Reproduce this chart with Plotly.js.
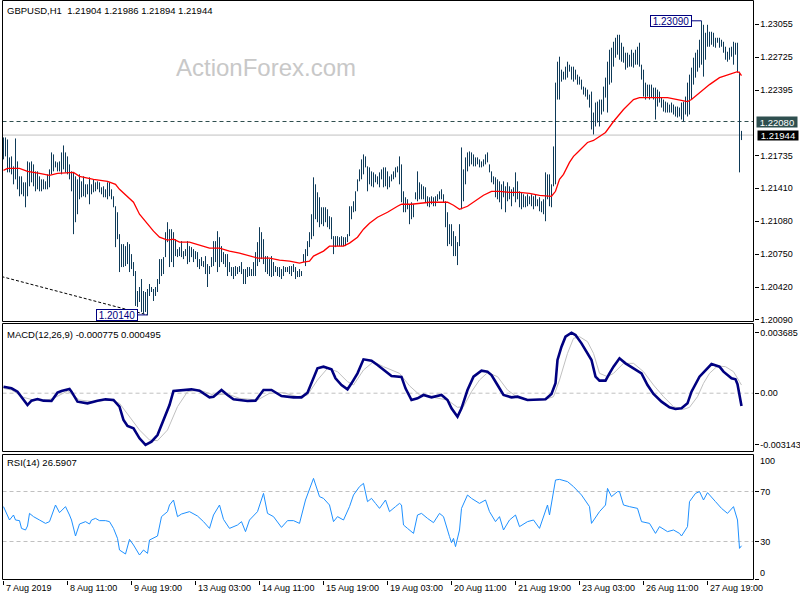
<!DOCTYPE html>
<html><head><meta charset="utf-8">
<script src="https://cdn.plot.ly/plotly-3.0.1.min.js"></script>
<style>html,body{margin:0;padding:0;background:#fff}#chart{width:800px;height:600px}</style>
</head><body><div id="chart"></div>
<script>
// ---------------- DATA ----------------
const symbol = 'GBPUSD,H1';
const lastOHLC = [1.21904, 1.21986, 1.21894, 1.21944];
const hLinePrice = 1.22080;
const macdLabelVals = [-0.000775, 0.000495];
const rsiLabelVal = 26.5907;

const timeLabels = ['7 Aug 2019','8 Aug 11:00','9 Aug 19:00','13 Aug 03:00','14 Aug 11:00','15 Aug 19:00',
  '19 Aug 03:00','20 Aug 11:00','21 Aug 19:00','23 Aug 03:00','26 Aug 11:00','27 Aug 19:00'];
const timeLabelBars = [0,32,64,96,128,160,192,224,256,288,320,352];

const priceTicks = [1.23055,1.22725,1.22395,1.21735,1.21410,1.21080,1.20750,1.20420,1.20090];
const macdTicks = [0.003685, 0, -0.003143];
const macdTickText = ['0.003685','0.00','-0.003143'];
const rsiLevels = [70, 30];

const highs = [
1.2192,1.2192,1.2190,1.2172,1.2173,1.2163,1.2191,1.2168,1.2153,1.2153,
1.2147,1.2147,1.2168,1.2167,1.2168,1.2165,1.2158,1.2158,1.2153,1.2150,
1.2150,1.2148,1.2155,1.2160,1.2177,1.2175,1.2168,1.2167,1.2168,1.2177,
1.2184,1.2177,1.2173,1.2165,1.2158,1.2157,1.2153,1.2150,1.2155,1.2148,
1.2153,1.2145,1.2145,1.2152,1.2145,1.2150,1.2147,1.2148,1.2147,1.2142,
1.2143,1.2140,1.2147,1.2147,1.2140,1.2133,1.2123,1.2117,1.2095,1.2085,
1.2085,1.2083,1.2087,1.2085,1.2075,1.2067,1.2058,1.2038,1.2042,1.2050,
1.2038,1.2037,1.2040,1.2045,1.2042,1.2040,1.2042,1.2050,1.2070,1.2070,
1.2072,1.2097,1.2107,1.2100,1.2100,1.2097,1.2090,1.2080,1.2082,1.2088,
1.2078,1.2080,1.2088,1.2083,1.2082,1.2080,1.2078,1.2077,1.2070,1.2072,
1.2068,1.2073,1.2065,1.2063,1.2072,1.2088,1.2088,1.2098,1.2092,1.2083,
1.2077,1.2075,1.2075,1.2067,1.2062,1.2062,1.2063,1.2062,1.2063,1.2067,
1.2060,1.2060,1.2062,1.2062,1.2060,1.2067,1.2077,1.2087,1.2102,1.2097,
1.2090,1.2073,1.2073,1.2070,1.2073,1.2067,1.2063,1.2062,1.2062,1.2060,
1.2063,1.2062,1.2062,1.2063,1.2063,1.2065,1.2062,1.2058,1.2060,1.2058,
1.2075,1.2080,1.2088,1.2097,1.2115,1.2152,1.2145,1.2137,1.2132,1.2122,
1.2122,1.2122,1.2120,1.2113,1.2112,1.2093,1.2093,1.2093,1.2092,1.2093,
1.2092,1.2092,1.2095,1.2123,1.2123,1.2128,1.2138,1.2150,1.2160,1.2170,
1.2175,1.2173,1.2163,1.2162,1.2158,1.2157,1.2155,1.2153,1.2157,1.2160,
1.2162,1.2162,1.2158,1.2153,1.2155,1.2158,1.2162,1.2163,1.2173,1.2165,
1.2138,1.2132,1.2130,1.2125,1.2127,1.2125,1.2137,1.2158,1.2147,1.2145,
1.2143,1.2142,1.2133,1.2132,1.2133,1.2132,1.2133,1.2135,1.2138,1.2140,
1.2135,1.2128,1.2117,1.2105,1.2105,1.2098,1.2093,1.2087,1.2105,1.2182,
1.2160,1.2172,1.2177,1.2178,1.2177,1.2175,1.2172,1.2172,1.2170,1.2168,
1.2170,1.2175,1.2177,1.2165,1.2158,1.2153,1.2152,1.2150,1.2148,1.2145,
1.2148,1.2143,1.2147,1.2143,1.2140,1.2142,1.2157,1.2148,1.2138,1.2137,
1.2135,1.2133,1.2135,1.2133,1.2135,1.2133,1.2135,1.2130,1.2132,1.2128,
1.2130,1.2157,1.2155,1.2155,1.2145,1.2183,1.2247,1.2268,1.2273,1.2260,
1.2258,1.2263,1.2268,1.2265,1.2263,1.2263,1.2260,1.2255,1.2253,1.2250,
1.2243,1.2242,1.2240,1.2235,1.2238,1.2217,1.2227,1.2228,1.2230,1.2230,
1.2243,1.2252,1.2268,1.2280,1.2282,1.2288,1.2292,1.2295,1.2295,1.2287,
1.2283,1.2277,1.2277,1.2275,1.2280,1.2277,1.2280,1.2283,1.2287,1.2265,
1.2260,1.2247,1.2245,1.2245,1.2245,1.2242,1.2242,1.2240,1.2238,1.2232,
1.2230,1.2228,1.2227,1.2225,1.2227,1.2225,1.2223,1.2223,1.2222,1.2227,
1.2228,1.2233,1.2247,1.2255,1.2262,1.2272,1.2277,1.2280,1.2290,1.2309,
1.2305,1.2297,1.2305,1.2298,1.2298,1.2297,1.2292,1.2292,1.2292,1.2290,
1.2288,1.2283,1.2278,1.2282,1.2283,1.2288,1.2287,1.2287,1.2258,1.21986];

const lows = [
1.2170,1.2173,1.2157,1.2157,1.2155,1.2145,1.2150,1.2140,1.2133,1.2135,
1.2133,1.2122,1.2133,1.2143,1.2147,1.2143,1.2138,1.2140,1.2138,1.2138,
1.2140,1.2140,1.2140,1.2142,1.2155,1.2158,1.2162,1.2158,1.2158,1.2155,
1.2160,1.2157,1.2155,1.2150,1.2138,1.2095,1.2107,1.2115,1.2130,1.2132,
1.2133,1.2132,1.2135,1.2125,1.2135,1.2137,1.2138,1.2140,1.2137,1.2135,
1.2132,1.2132,1.2130,1.2133,1.2130,1.2122,1.2082,1.2090,1.2057,1.2062,
1.2062,1.2063,1.2065,1.2057,1.2060,1.2053,1.2023,1.2022,1.2027,1.2017,
1.2015,1.2017,1.2014,1.2033,1.2037,1.2028,1.2033,1.2037,1.2045,1.2053,
1.2055,1.2072,1.2087,1.2062,1.2067,1.2062,1.2073,1.2072,1.2073,1.2072,
1.2070,1.2073,1.2065,1.2067,1.2072,1.2067,1.2070,1.2062,1.2060,1.2063,
1.2062,1.2055,1.2042,1.2055,1.2062,1.2063,1.2067,1.2057,1.2062,1.2067,
1.2065,1.2062,1.2053,1.2057,1.2053,1.2050,1.2053,1.2055,1.2057,1.2055,
1.2045,1.2045,1.2052,1.2053,1.2053,1.2053,1.2053,1.2063,1.2067,1.2070,
1.2065,1.2057,1.2055,1.2053,1.2052,1.2053,1.2057,1.2053,1.2052,1.2050,
1.2053,1.2057,1.2057,1.2055,1.2053,1.2057,1.2050,1.2052,1.2052,1.2053,
1.2067,1.2063,1.2073,1.2082,1.2090,1.2093,1.2110,1.2107,1.2102,1.2105,
1.2103,1.2107,1.2102,1.2100,1.2090,1.2075,1.2082,1.2083,1.2083,1.2083,
1.2083,1.2083,1.2087,1.2093,1.2110,1.2117,1.2118,1.2138,1.2148,1.2150,
1.2155,1.2162,1.2138,1.2145,1.2143,1.2142,1.2147,1.2145,1.2142,1.2150,
1.2142,1.2143,1.2140,1.2142,1.2148,1.2150,1.2152,1.2157,1.2145,1.2127,
1.2117,1.2117,1.2120,1.2105,1.2110,1.2112,1.2130,1.2128,1.2130,1.2130,
1.2130,1.2127,1.2123,1.2122,1.2125,1.2123,1.2123,1.2128,1.2130,1.2130,
1.2127,1.2102,1.2083,1.2085,1.2083,1.2073,1.2073,1.2064,1.2083,1.2120,
1.2128,1.2145,1.2158,1.2163,1.2165,1.2163,1.2163,1.2165,1.2162,1.2162,
1.2163,1.2165,1.2167,1.2157,1.2147,1.2145,1.2132,1.2130,1.2127,1.2120,
1.2132,1.2117,1.2128,1.2130,1.2123,1.2133,1.2127,1.2130,1.2122,1.2120,
1.2122,1.2122,1.2123,1.2125,1.2123,1.2120,1.2123,1.2123,1.2118,1.2117,
1.2115,1.2108,1.2130,1.2123,1.2122,1.2143,1.2145,1.2230,1.2230,1.2248,
1.2250,1.2250,1.2252,1.2258,1.2250,1.2248,1.2250,1.2245,1.2245,1.2240,
1.2235,1.2233,1.2230,1.2222,1.2200,1.2195,1.2203,1.2207,1.2203,1.2215,
1.2218,1.2232,1.2217,1.2245,1.2247,1.2263,1.2272,1.2275,1.2270,1.2268,
1.2267,1.2260,1.2262,1.2263,1.2263,1.2262,1.2265,1.2265,1.2263,1.2250,
1.2233,1.2230,1.2233,1.2230,1.2232,1.2230,1.2210,1.2223,1.2227,1.2222,
1.2218,1.2217,1.2217,1.2217,1.2217,1.2215,1.2213,1.2212,1.2213,1.2210,
1.2208,1.2215,1.2213,1.2215,1.2230,1.2245,1.2252,1.2258,1.2262,1.2265,
1.2253,1.2270,1.2283,1.2283,1.2285,1.2283,1.2282,1.2287,1.2282,1.2283,
1.2277,1.2270,1.2268,1.2270,1.2273,1.2265,1.2275,1.2257,1.2157,1.21894];

// moving average [bar, value]
const maPts = [[0,1.2159],[2,1.2161],[8,1.2161],[12,1.2158],[18,1.2156],[23,1.2154],[27,1.2156],[32,1.2157],[35,1.2157],[38,1.2153],
[45,1.2150],[52,1.2148],[56,1.2145],[58,1.2140],[62,1.2133],[65,1.2127],[68,1.2115],[72,1.2105],[75,1.2098],[78,1.2092],
[82,1.2089],[85,1.2090],[88,1.2087],[93,1.2087],[98,1.2084],[103,1.2081],[108,1.2081],[113,1.2078],[118,1.2076],[123,1.2073],
[127,1.2071],[133,1.2071],[138,1.2069],[143,1.2068],[148,1.2066],[150,1.2067],[153,1.2068],[155,1.2073],[160,1.2078],[163,1.2083],
[170,1.2083],[173,1.2086],[177,1.2092],[180,1.2100],[183,1.2106],[187,1.2112],[192,1.2117],[197,1.2123],[199,1.2125],[204,1.2125],
[208,1.2126],[213,1.2127],[217,1.2127],[222,1.2127],[225,1.2124],[228,1.2120],[232,1.2123],[237,1.2130],[240,1.2134],[244,1.2138],
[248,1.2138],[253,1.2137],[258,1.2137],[263,1.2136],[268,1.2134],[274,1.2133],[276,1.2138],[278,1.2150],[280,1.2155],[283,1.2167],
[285,1.2173],[287,1.2177],[292,1.2187],[295,1.2189],[301,1.2197],[305,1.2208],[310,1.2220],[315,1.2230],[318,1.2232],[328,1.2232],
[332,1.2232],[337,1.2230],[342,1.2228],[344,1.2230],[348,1.2237],[353,1.2245],[358,1.2252],[363,1.2255],[367,1.2258],[368,1.2257],[369,1.2254]];

const macdPts = [[0,0.000398],[4,0.000296],[7,0.000093],[9,-0.000211],[12,-0.000719],[14,-0.000455],[17,-0.000353],[20,-0.000455],[24,-0.000475],[27,0.000032],
[29,0.000134],[33,0.000256],[34,0.000093],[37,-0.000516],[42,-0.000617],[47,-0.000455],[51,-0.000374],[55,-0.000414],[58,-0.000820],[60,-0.001632],
[62,-0.001998],[65,-0.002140],[68,-0.002749],[71,-0.003143],[74,-0.002952],[77,-0.002546],[80,-0.001632],[83,-0.000719],[85,0.000134],[89,0.000195],
[94,0.000235],[98,0.000154],[103,-0.000252],[105,-0.000211],[109,0.000195],[112,-0.000110],[115,-0.000374],[122,-0.000475],[126,-0.000455],[130,0.000195],
[134,0.000195],[139,-0.000171],[145,-0.000252],[149,-0.000252],[152,0.000032],[157,0.001514],[160,0.001616],[164,0.001453],[166,0.000905],[169,0.000499],
[172,0.000235],[174,0.000601],[177,0.001210],[180,0.002062],[184,0.001981],[187,0.001717],[190,0.001413],[194,0.001047],[199,0.000990],[201,0.000296],
[204,-0.000414],[207,-0.000313],[210,-0.000110],[214,-0.000252],[219,-0.000110],[222,-0.000414],[224,-0.000922],[227,-0.001429],[229,-0.000922],[232,0.000195],
[235,0.001007],[239,0.001372],[242,0.001311],[244,0.001108],[247,0.000499],[250,-0.000110],[254,-0.000252],[257,-0.000211],[262,-0.000414],[267,-0.000414],
[271,-0.000374],[274,-0.000049],[276,0.000601],[277,0.002022],[279,0.002834],[281,0.003443],[284,0.003685],[286,0.003544],[289,0.003036],[294,0.002022],
[296,0.001007],[298,0.000763],[301,0.000763],[303,0.001210],[305,0.001616],[308,0.002123],[311,0.001819],[315,0.001514],[319,0.001210],[322,0.000499],
[325,-0.000049],[329,-0.000516],[333,-0.000861],[336,-0.000962],[339,-0.000922],[342,-0.000617],[344,0.000093],[348,0.001007],[351,0.001413],[354,0.001778],
[358,0.001616],[360,0.001311],[364,0.000905],[366,0.000844],[367,0.000550],[368,-0.000250],[369,-0.000775]];

const signalPts = [[0,0.000296],[4,0.000195],[10,-0.000252],[15,-0.000414],[20,-0.000475],[25,-0.000313],[32,0.000134],[38,-0.000414],[45,-0.000516],[53,-0.000414],
[58,-0.000617],[63,-0.001429],[68,-0.002241],[73,-0.002850],[77,-0.002891],[82,-0.002241],[87,-0.000820],[92,0.000093],[98,0.000195],[105,-0.000110],
[112,-0.000049],[118,-0.000313],[127,-0.000414],[133,-0.000008],[140,0.000032],[147,-0.000211],[152,-0.000110],[157,0.000804],[162,0.001514],[167,0.001311],
[172,0.000702],[175,0.000499],[180,0.001413],[185,0.001920],[190,0.001616],[198,0.001210],[203,0.000450],[208,-0.000100],[215,-0.000252],[222,-0.000414],
[227,-0.000861],[230,-0.000820],[234,0.000093],[238,0.000804],[242,0.001250],[247,0.001007],[252,0.000195],[257,-0.000252],[263,-0.000414],[270,-0.000414],
[275,-0.000211],[278,0.000804],[282,0.002428],[285,0.003341],[288,0.003443],[292,0.003139],[295,0.002428],[298,0.001210],[302,0.001007],[305,0.001210],
[310,0.001819],[315,0.001819],[320,0.001311],[325,0.000499],[330,-0.000211],[335,-0.000820],[340,-0.000983],[343,-0.000861],[347,-0.000211],[350,0.000601],
[353,0.001210],[357,0.001656],[361,0.001616],[365,0.001311],[368,0.000702],[369,0.000495]];

const rsiPts = [[0,57.9],[2,51.2],[3,47.2],[5,51.2],[6,47.2],[8,46.7],[9,40.5],[11,39.2],[12,42.4],[13,52.5],
[15,49.9],[18,47.2],[21,44.5],[23,45.9],[26,59.2],[28,53.1],[31,57.9],[33,51.2],[34,47.2],[36,34.4],
[38,44.0],[41,45.9],[43,44.0],[44,47.2],[46,48.5],[48,46.7],[51,46.7],[53,45.9],[55,40.5],[57,32.5],
[58,23.2],[61,20.0],[63,31.7],[65,27.2],[68,19.2],[70,23.2],[72,20.5],[73,31.2],[77,34.4],[79,49.9],
[82,53.9],[83,59.2],[85,63.2],[87,49.9],[89,52.0],[93,53.9],[97,50.4],[100,45.9],[103,40.5],[105,51.2],
[108,59.2],[110,47.7],[113,40.5],[117,43.2],[119,45.9],[121,37.9],[123,47.2],[127,53.9],[130,68.5],[132,52.5],
[135,49.9],[139,41.3],[142,46.7],[145,46.7],[148,44.5],[151,63.2],[153,72.5],[155,80.5],[158,65.9],[160,64.5],
[163,59.2],[165,45.9],[167,49.9],[170,47.2],[173,57.9],[175,67.2],[178,73.9],[180,76.5],[182,61.9],[184,64.5],
[186,60.5],[188,56.5],[191,63.2],[193,53.9],[196,57.9],[198,60.5],[199,59.2],[200,43.2],[202,40.5],[203,39.2],
[205,36.5],[207,51.2],[209,52.5],[212,48.5],[215,45.1],[218,52.5],[220,49.9],[223,33.9],[224,29.1],[225,32.5],
[226,25.9],[228,39.2],[229,56.5],[232,67.2],[234,64.5],[238,60.5],[241,63.2],[243,53.9],[246,45.9],[248,49.9],
[250,39.2],[253,47.2],[256,51.2],[258,41.9],[262,45.9],[265,47.2],[268,40.5],[272,59.2],[273,51.2],[276,79.2],
[278,79.7],[282,77.9],[285,73.9],[289,67.2],[293,57.9],[294,44.5],[298,53.9],[301,59.2],[302,72.5],[304,65.9],
[307,69.9],[308,69.9],[310,59.2],[313,57.9],[317,56.5],[319,45.9],[323,44.5],[326,36.5],[328,41.9],[332,37.9],
[335,39.2],[338,36.5],[339,34.4],[342,41.9],[343,61.9],[346,68.5],[348,69.9],[350,63.2],[352,69.1],[356,61.9],
[359,56.5],[362,52.5],[364,56.5],[365,57.9],[367,47.2],[368,24.5],[369,26.5907]];

// trend line drawn on the chart: [bar, price] at its visible start; it ends at the swing low
const trendStart = [-1, 1.20525];

// ---------------- LAYOUT / CALIBRATION ----------------
const W = 800, H = 600;
const FONT = 'Liberation Sans, Arial, sans-serif';
const FS = 9.5;
const xL = 2.5, xR = 753.5;
const mainPx = [0.5, 321.5], macdPx = [323.5, 451.5], rsiPx = [454.5, 579.5];
const pY = py => 1 - py / H;
const pX = px => px / W;
const priceAt = py => 1.23055 - (py - 24.3) * 0.0001003;
const macdAt = py => (393.2 - py) * 0.0000609;
const rsiAt = py => (579 - py) / 1.25;

const n = highs.length;
const bx = [], by = [];
for (let i = 0; i < n; i++) { bx.push(i, i, null); by.push(lows[i], highs[i], null); }
const hiIdx = highs.indexOf(Math.max(...highs));
const loIdx = lows.indexOf(Math.min(...lows));
const col = a => a.map(p => p[0]);
const val = a => a.map(p => p[1]);

const traces = [
  {x: [trendStart[0], loIdx], y: [trendStart[1], lows[loIdx]], xaxis:'x', yaxis:'y', mode:'lines',
   line:{color:'#000', width:1, dash:'3px,2px'}},
  {x: bx, y: by, xaxis:'x', yaxis:'y', mode:'lines', line:{color:'#0e3a58', width:1, simplify:false}},
  {x: col(maPts), y: val(maPts), xaxis:'x', yaxis:'y', mode:'lines', line:{color:'#ff0000', width:1.3}},
  {x: col(signalPts), y: val(signalPts), xaxis:'x', yaxis:'y2', mode:'lines', line:{color:'#c0c0c0', width:1}},
  {x: col(macdPts), y: val(macdPts), xaxis:'x', yaxis:'y2', mode:'lines', line:{color:'#000080', width:2.6}},
  {x: col(rsiPts), y: val(rsiPts), xaxis:'x', yaxis:'y3', mode:'lines', line:{color:'#1e90ff', width:1}}
];

const tickFont = {family: FONT, size: FS, color: '#000'};
const axisFont = {family: FONT, size: 9, color: '#000'};
const yCommon = {side:'right', anchor:'x', showgrid:false, zeroline:false, showline:false,
  ticks:'outside', ticklen:4, tickcolor:'#000', tickwidth:1, tickfont:axisFont, fixedrange:true};

const shapes = [];
[mainPx, macdPx, rsiPx].forEach(p => shapes.push({type:'rect', xref:'paper', yref:'paper',
  x0:pX(xL), x1:pX(xR), y0:pY(p[1]), y1:pY(p[0]), line:{color:'#000', width:1}, fillcolor:'rgba(0,0,0,0)'}));
shapes.push({type:'line', xref:'paper', yref:'y', x0:pX(xL), x1:pX(xR), y0:hLinePrice, y1:hLinePrice,
  line:{color:'#2f4f4f', width:1, dash:'4px,3px'}, layer:'below'});
shapes.push({type:'line', xref:'paper', yref:'y', x0:pX(xL), x1:pX(xR), y0:lastOHLC[3], y1:lastOHLC[3],
  line:{color:'#c0c0c0', width:1}, layer:'below'});
shapes.push({type:'line', xref:'paper', yref:'y2', x0:pX(xL), x1:pX(xR), y0:0, y1:0,
  line:{color:'#c0c0c0', width:1, dash:'4px,3px'}, layer:'below'});
rsiLevels.forEach(v => shapes.push({type:'line', xref:'paper', yref:'y3', x0:pX(xL), x1:pX(xR), y0:v, y1:v,
  line:{color:'#c0c0c0', width:1, dash:'4px,3px'}, layer:'below'}));
shapes.push({type:'line', xref:'x', yref:'y', x0:hiIdx-4.75, x1:hiIdx, y0:highs[hiIdx], y1:highs[hiIdx], line:{color:'#000080', width:1}});
shapes.push({type:'line', xref:'x', yref:'y', x0:loIdx-4.75, x1:loIdx, y0:lows[loIdx], y1:lows[loIdx], line:{color:'#000080', width:1}});

const NB = '\u00a0';
const annotations = [
  {xref:'paper', yref:'paper', x:pX(5), y:pY(11), xanchor:'left', yanchor:'middle', showarrow:false,
   text: symbol + NB + NB + lastOHLC.map(v => v.toFixed(5)).join(' '), font:tickFont},
  {xref:'paper', yref:'paper', x:pX(266), y:pY(68), xanchor:'center', yanchor:'middle', showarrow:false,
   text:'ActionForex.com', font:{family:FONT, size:24, color:'#c8c8c8'}},
  {xref:'paper', yref:'paper', x:pX(5), y:pY(334), xanchor:'left', yanchor:'middle', showarrow:false,
   text:'MACD(12,26,9) ' + macdLabelVals[0].toFixed(6) + ' ' + macdLabelVals[1].toFixed(6), font:tickFont},
  {xref:'paper', yref:'paper', x:pX(5), y:pY(462), xanchor:'left', yanchor:'middle', showarrow:false,
   text:'RSI(14) ' + rsiLabelVal.toFixed(4), font:tickFont},
  {xref:'paper', yref:'y', x:pX(755.5), y:hLinePrice, xanchor:'left', yanchor:'middle', showarrow:false,
   text:hLinePrice.toFixed(5), bgcolor:'#2f4f4f', width:40, height:10, borderpad:0,
   font:{family:FONT, size:FS, color:'#fff'}},
  {xref:'paper', yref:'y', x:pX(756.5), y:lastOHLC[3], xanchor:'left', yanchor:'middle', showarrow:false,
   text:lastOHLC[3].toFixed(5), bgcolor:'#000', width:40, height:9, borderpad:0,
   font:{family:FONT, size:FS, color:'#fff'}},
  {xref:'x', yref:'y', x:hiIdx-4.75, y:highs[hiIdx], xanchor:'right', yanchor:'middle', showarrow:false,
   text:highs[hiIdx].toFixed(5), bgcolor:'#fff', bordercolor:'#000080', borderwidth:1, borderpad:0, width:40, height:10,
   font:{family:FONT, size:10, color:'#000080'}},
  {xref:'x', yref:'y', x:loIdx-4.75, y:lows[loIdx], xanchor:'right', yanchor:'middle', showarrow:false,
   text:lows[loIdx].toFixed(5), bgcolor:'#fff', bordercolor:'#000080', borderwidth:1, borderpad:0, width:40, height:10,
   font:{family:FONT, size:10, color:'#000080'}},
  {xref:'paper', yref:'paper', x:pX(758), y:pY(461), xanchor:'left', yanchor:'middle', showarrow:false, text:'100', font:axisFont},
  {xref:'paper', yref:'paper', x:pX(758), y:pY(573), xanchor:'left', yanchor:'middle', showarrow:false, text:'0', font:axisFont}
];
// time-axis labels, left-aligned just after each tick (MT4 style)
timeLabels.forEach((t, k) => annotations.push({xref:'x', yref:'paper', x:timeLabelBars[k], y:pY(588),
  xanchor:'left', yanchor:'middle', showarrow:false, text:t, font:axisFont}));

const layout = {
  width: W, height: H, margin:{l:0, r:0, t:0, b:0}, paper_bgcolor:'#fff', plot_bgcolor:'#fff',
  showlegend:false, hovermode:false,
  xaxis:{domain:[pX(xL), pX(xR)], range:[-0.5, -0.5 + (xR - xL) / 2], anchor:'y3', showgrid:false, zeroline:false,
    showline:false, ticks:'outside', ticklen:4, tickcolor:'#000', tickwidth:1, tickvals:timeLabelBars,
    showticklabels:false, fixedrange:true},
  yaxis:Object.assign({}, yCommon, {domain:[pY(mainPx[1]), pY(mainPx[0])], range:[priceAt(mainPx[1]), priceAt(mainPx[0])],
    tickvals:priceTicks, ticktext:priceTicks.map(v => v.toFixed(5))}),
  yaxis2:Object.assign({}, yCommon, {domain:[pY(macdPx[1]), pY(macdPx[0])], range:[macdAt(macdPx[1]), macdAt(macdPx[0])],
    tickvals:macdTicks, ticktext:macdTickText}),
  yaxis3:Object.assign({}, yCommon, {domain:[pY(rsiPx[1]), pY(rsiPx[0])], range:[rsiAt(rsiPx[1]), rsiAt(rsiPx[0])],
    tickvals:[70, 30, 0], ticktext:['70', '30', '']}),
  shapes: shapes, annotations: annotations
};

Plotly.newPlot('chart', traces, layout, {staticPlot:true, displayModeBar:false});
</script></body></html>
